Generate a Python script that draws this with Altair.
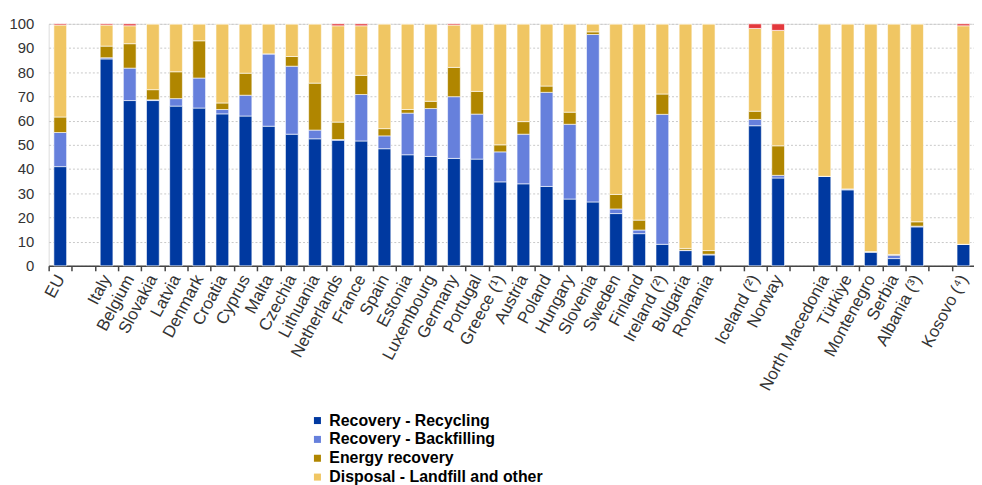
import altair as alt
import pandas as pd

# x-axis slots (blank names are the gaps between country groups)
axis_slots = ["EU", " ", "Italy", "Belgium", "Slovakia", "Latvia", "Denmark", "Croatia", "Cyprus",
              "Malta", "Czechia", "Lithuania", "Netherlands", "France", "Spain", "Estonia",
              "Luxembourg", "Germany", "Portugal", "Greece (¹)", "Austria", "Poland", "Hungary",
              "Slovenia", "Sweden", "Finland", "Ireland (²)", "Bulgaria", "Romania", "  ",
              "Iceland (²)", "Norway", "   ", "North Macedonia", "Türkiye", "Montenegro",
              "Serbia", "Albania (³)", "    ", "Kosovo (⁴)"]

countries = ["EU", "Italy", "Belgium", "Slovakia", "Latvia", "Denmark", "Croatia", "Cyprus",
             "Malta", "Czechia", "Lithuania", "Netherlands", "France", "Spain", "Estonia",
             "Luxembourg", "Germany", "Portugal", "Greece (¹)", "Austria", "Poland", "Hungary",
             "Slovenia", "Sweden", "Finland", "Ireland (²)", "Bulgaria", "Romania",
             "Iceland (²)", "Norway", "North Macedonia", "Türkiye", "Montenegro",
             "Serbia", "Albania (³)", "Kosovo (⁴)"]

recycling = [41.0, 85.5, 68.3, 68.3, 66.0, 65.2, 62.8, 61.9, 57.7, 54.4, 52.5, 51.9, 51.6, 48.4,
             45.9, 45.2, 44.4, 44.1, 34.7, 33.9, 32.8, 27.6, 26.4, 21.6, 13.3, 8.9, 6.3, 4.5,
             57.9, 36.3, 37.0, 31.4, 5.7, 3.0, 16.1, 8.9]
backfilling = [14.1, 0.5, 13.4, 0.3, 3.1, 12.4, 1.8, 8.6, 29.9, 28.1, 3.6, 0.3, 19.2, 5.3,
               17.2, 19.8, 25.5, 18.6, 12.4, 20.5, 38.9, 30.9, 69.2, 1.9, 1.5, 53.7, 0.2, 0.3,
               2.6, 1.1, 0.0, 0.4, 0.0, 1.4, 0.3, 0.0]
energy = [6.4, 4.8, 10.1, 4.2, 11.1, 15.4, 2.7, 9.1, 0.0, 4.0, 19.4, 7.2, 7.9, 3.0,
          1.5, 3.0, 12.1, 9.4, 2.9, 5.2, 2.6, 5.0, 1.1, 6.0, 4.1, 8.4, 0.7, 1.5,
          3.4, 12.2, 0.0, 0.0, 0.2, 0.3, 1.8, 0.0]
disposal = [38.0, 8.7, 7.4, 27.2, 19.8, 7.0, 32.7, 20.4, 12.4, 13.5, 24.5, 39.8, 20.5, 43.3,
            35.4, 32.0, 17.5, 27.9, 50.0, 40.4, 25.7, 36.5, 3.3, 70.5, 81.1, 29.0, 92.8, 93.7,
            34.2, 47.7, 63.0, 68.2, 94.1, 95.3, 81.8, 90.3]
other = [0.5, 0.5, 0.8, 0.0, 0.0, 0.0, 0.0, 0.0, 0.0, 0.0, 0.0, 0.8, 0.8, 0.0,
         0.0, 0.0, 0.5, 0.0, 0.0, 0.0, 0.0, 0.0, 0.0, 0.0, 0.0, 0.0, 0.0, 0.0,
         1.9, 2.7, 0.0, 0.0, 0.0, 0.0, 0.0, 0.8]

series_names = ["Recovery - Recycling", "Recovery - Backfilling", "Energy recovery",
                "Disposal - Landfill and other", "Other"]
series_colors = ["#0039a0", "#6680dc", "#b08600", "#f0c663", "#e3383c"]

rows = []
for i, c in enumerate(countries):
    for k, (name, vals) in enumerate(zip(series_names, [recycling, backfilling, energy, disposal, other])):
        rows.append({"country": c, "series": name, "value": vals[i], "order": k})
df = pd.DataFrame(rows)

chart = alt.Chart(df).mark_bar(
    width=alt.RelativeBandSize(0.55), stroke="white", strokeWidth=0.6
).encode(
    x=alt.X("country:N", sort=None,
            scale=alt.Scale(domain=axis_slots, paddingInner=0, paddingOuter=0, range=[0, 934]),
            axis=alt.Axis(title=None, labelAngle=-62, labelAlign="right", labelBaseline="middle",
                          tickBand="extent", labelFontSize=17, labelColor="#333333",
                          domainColor="#444444", domainWidth=1.5, tickColor="#444444",
                          tickWidth=1.5, tickSize=5, labelPadding=5, grid=False,
                          labelOverlap=False, labelLimit=300)),
    y=alt.Y("value:Q", stack="zero",
            scale=alt.Scale(domain=[0, 100], nice=False),
            axis=alt.Axis(title=None, values=list(range(0, 101, 10)), domain=False, ticks=False,
                          labelFontSize=15, labelColor="#333333", labelPadding=15,
                          grid=True, gridColor="#c8c8c8", gridDash=[2, 2], gridWidth=1)),
    color=alt.Color("series:N",
                    scale=alt.Scale(domain=series_names, range=series_colors),
                    legend=alt.Legend(values=series_names[:4], title=None, orient="none",
                                      legendX=263, legendY=392, symbolType="square",
                                      symbolSize=50, symbolStrokeWidth=0, labelFontSize=16,
                                      labelFontWeight="bold", labelColor="#000000",
                                      rowPadding=3, labelOffset=4, labelLimit=400)),
    order=alt.Order("order:Q", sort="ascending"),
).properties(
    width=933, height=244,
    autosize=alt.AutoSizeParams(type="none"),
    padding={"left": 41, "top": 14, "right": 0, "bottom": 219},
).configure_view(stroke=None).configure(font="Liberation Sans")

chart.save("out.html", embed_options={"renderer": "svg", "actions": False})
